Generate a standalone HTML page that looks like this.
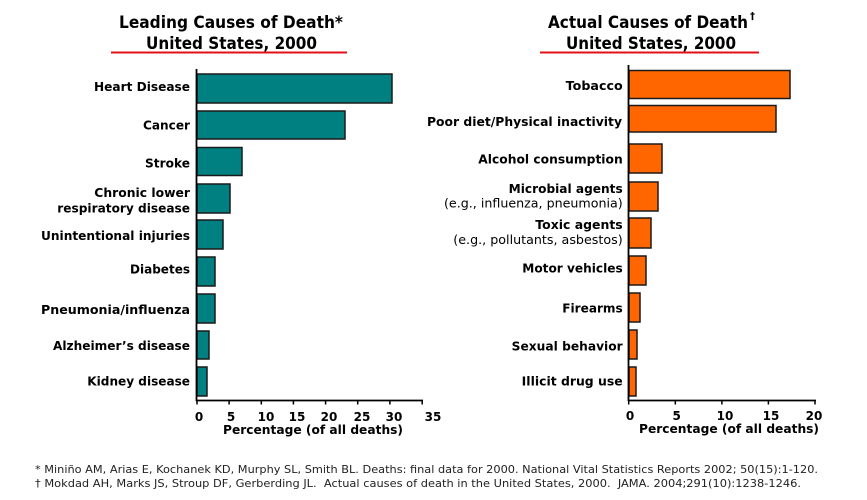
<!DOCTYPE html>
<html>
<head>
<meta charset="utf-8">
<style>
html,body{margin:0;padding:0;background:#fff;}
svg{display:block;}
.t{font-family:"DejaVu Sans","Liberation Sans",sans-serif;font-weight:bold;fill:#000;}
.lab{font-family:"DejaVu Sans","Liberation Sans",sans-serif;font-weight:bold;font-size:12px;fill:#000;}
.reg{font-family:"DejaVu Sans","Liberation Sans",sans-serif;font-weight:normal;font-size:12px;fill:#000;}
.fn{font-family:"DejaVu Sans","Liberation Sans",sans-serif;font-size:10.5px;fill:#222;white-space:pre;}
</style>
</head>
<body>
<svg width="867" height="500" viewBox="0 0 867 500" xmlns="http://www.w3.org/2000/svg">
<rect x="0" y="0" width="867" height="500" fill="#fff"/>

<!-- Left title -->
<text class="t" font-size="17" x="119" y="28" textLength="224" lengthAdjust="spacingAndGlyphs">Leading Causes of Death*</text>
<text class="t" font-size="17" x="146" y="49" textLength="171" lengthAdjust="spacingAndGlyphs">United States, 2000</text>
<rect x="111" y="51.5" width="236" height="2" fill="#e0101a"/>

<!-- Right title -->
<text class="t" font-size="17" x="548" y="28" textLength="200" lengthAdjust="spacingAndGlyphs">Actual Causes of Death</text>
<text class="t" font-size="10" x="750" y="19">†</text>
<text class="t" font-size="17" x="566" y="49" textLength="170" lengthAdjust="spacingAndGlyphs">United States, 2000</text>
<rect x="540" y="51.5" width="219" height="2" fill="#e0101a"/>

<!-- Left bars -->
<g fill="#008080" stroke="#1a1a1a" stroke-width="1.5">
<rect x="197" y="74" width="195" height="29"/>
<rect x="197" y="111" width="148" height="28"/>
<rect x="197" y="147.5" width="45" height="28"/>
<rect x="197" y="184" width="33" height="29"/>
<rect x="197" y="220" width="26" height="29"/>
<rect x="197" y="257" width="18" height="29"/>
<rect x="197" y="294" width="18" height="29"/>
<rect x="197" y="331" width="12" height="28"/>
<rect x="197" y="367" width="10" height="29"/>
</g>
<!-- Left axes -->
<line x1="196.5" y1="69" x2="196.5" y2="401" stroke="#000" stroke-width="1.8"/>
<line x1="196" y1="400.5" x2="423" y2="400.5" stroke="#000" stroke-width="1.8"/>
<g stroke="#000" stroke-width="1.5">
<line x1="197" y1="400" x2="197" y2="404.5"/>
<line x1="229.1" y1="400" x2="229.1" y2="404.5"/>
<line x1="261.3" y1="400" x2="261.3" y2="404.5"/>
<line x1="293.4" y1="400" x2="293.4" y2="404.5"/>
<line x1="325.6" y1="400" x2="325.6" y2="404.5"/>
<line x1="357.7" y1="400" x2="357.7" y2="404.5"/>
<line x1="389.9" y1="400" x2="389.9" y2="404.5"/>
<line x1="422.2" y1="400" x2="422.2" y2="404.5"/>
</g>
<g class="lab" text-anchor="middle">
<text x="199" y="421">0</text>
<text x="231" y="421">5</text>
<text x="266" y="421">10</text>
<text x="297" y="421">15</text>
<text x="329" y="421">20</text>
<text x="362" y="421">25</text>
<text x="394" y="421">30</text>
<text x="433" y="421">35</text>
</g>
<text class="lab" x="223" y="434" textLength="180" lengthAdjust="spacingAndGlyphs">Percentage (of all deaths)</text>

<!-- Left labels -->
<g class="lab" text-anchor="end">
<text x="190" y="91" textLength="96" lengthAdjust="spacingAndGlyphs">Heart Disease</text>
<text x="190" y="129.5" textLength="47" lengthAdjust="spacingAndGlyphs">Cancer</text>
<text x="190" y="167.5" textLength="45" lengthAdjust="spacingAndGlyphs">Stroke</text>
<text x="190" y="197" textLength="95.7" lengthAdjust="spacingAndGlyphs">Chronic lower</text>
<text x="190" y="212.5" textLength="132.7" lengthAdjust="spacingAndGlyphs">respiratory disease</text>
<text x="190" y="240" textLength="149" lengthAdjust="spacingAndGlyphs">Unintentional injuries</text>
<text x="190" y="273.5" textLength="60" lengthAdjust="spacingAndGlyphs">Diabetes</text>
<text x="190" y="314" textLength="149" lengthAdjust="spacingAndGlyphs">Pneumonia/influenza</text>
<text x="190" y="350" textLength="137" lengthAdjust="spacingAndGlyphs">Alzheimer’s disease</text>
<text x="190" y="385.5" textLength="102.7" lengthAdjust="spacingAndGlyphs">Kidney disease</text>
</g>

<!-- Right bars -->
<g fill="#ff6600" stroke="#1a1a1a" stroke-width="1.5">
<rect x="629" y="70.5" width="161" height="28"/>
<rect x="629" y="105.5" width="147" height="26.5"/>
<rect x="629" y="144" width="33" height="29"/>
<rect x="629" y="182" width="29" height="29"/>
<rect x="629" y="218" width="22" height="30"/>
<rect x="629" y="256" width="17" height="29"/>
<rect x="629" y="293" width="11" height="29"/>
<rect x="629" y="330" width="8" height="29"/>
<rect x="629" y="367" width="7" height="29"/>
</g>
<!-- Right axes -->
<line x1="628.5" y1="65" x2="628.5" y2="401" stroke="#000" stroke-width="1.8"/>
<line x1="628" y1="400.5" x2="816" y2="400.5" stroke="#000" stroke-width="1.8"/>
<g stroke="#000" stroke-width="1.5">
<line x1="628.7" y1="400" x2="628.7" y2="404.5"/>
<line x1="675.3" y1="400" x2="675.3" y2="404.5"/>
<line x1="721.9" y1="400" x2="721.9" y2="404.5"/>
<line x1="768.4" y1="400" x2="768.4" y2="404.5"/>
<line x1="815" y1="400" x2="815" y2="404.5"/>
</g>
<g class="lab" text-anchor="middle">
<text x="630" y="420">0</text>
<text x="676.7" y="420">5</text>
<text x="725" y="420">10</text>
<text x="771" y="420">15</text>
<text x="814" y="420">20</text>
</g>
<text class="lab" x="639" y="433" textLength="180" lengthAdjust="spacingAndGlyphs">Percentage (of all deaths)</text>

<!-- Right labels -->
<g class="lab" text-anchor="end">
<text x="622.7" y="90" textLength="57" lengthAdjust="spacingAndGlyphs">Tobacco</text>
<text x="622" y="126" textLength="195" lengthAdjust="spacingAndGlyphs">Poor diet/Physical inactivity</text>
<text x="622.7" y="163.5" textLength="144.4" lengthAdjust="spacingAndGlyphs">Alcohol consumption</text>
<text x="622.7" y="193" textLength="114" lengthAdjust="spacingAndGlyphs">Microbial agents</text>
<text x="622.7" y="229" textLength="87.4" lengthAdjust="spacingAndGlyphs">Toxic agents</text>
<text x="622.7" y="272.5" textLength="100.4" lengthAdjust="spacingAndGlyphs">Motor vehicles</text>
<text x="622.7" y="312.5" textLength="60.4" lengthAdjust="spacingAndGlyphs">Firearms</text>
<text x="622.7" y="350.5" textLength="111" lengthAdjust="spacingAndGlyphs">Sexual behavior</text>
<text x="622.7" y="385.5" textLength="101" lengthAdjust="spacingAndGlyphs">Illicit drug use</text>
</g>
<g class="reg" text-anchor="end">
<text x="622.7" y="207.5" textLength="178.7" lengthAdjust="spacingAndGlyphs">(e.g., influenza, pneumonia)</text>
<text x="622.7" y="244" textLength="169.4" lengthAdjust="spacingAndGlyphs">(e.g., pollutants, asbestos)</text>
</g>

<!-- Footnotes -->
<text class="fn" x="35" y="473" textLength="783" lengthAdjust="spacingAndGlyphs">* Miniño AM, Arias E, Kochanek KD, Murphy SL, Smith BL. Deaths: final data for 2000. National Vital Statistics Reports 2002; 50(15):1-120.</text>
<text class="fn" x="35" y="487" textLength="766" lengthAdjust="spacingAndGlyphs">† Mokdad AH, Marks JS, Stroup DF, Gerberding JL.  Actual causes of death in the United States, 2000.  JAMA. 2004;291(10):1238-1246.</text>
</svg>
</body>
</html>
